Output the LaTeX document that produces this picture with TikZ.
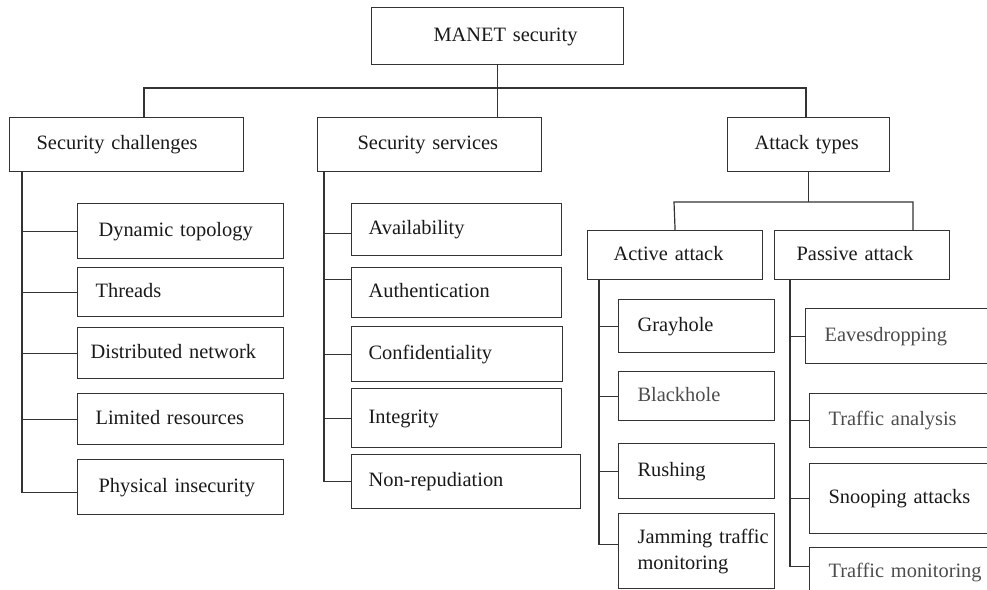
\documentclass[tikz,border=0pt]{standalone}
\usepackage{fontspec}
\setmainfont{Liberation Serif}
\usetikzlibrary{positioning}

\tikzset{
  box/.style n args={4}{draw=black!80, line width=0.6pt, anchor=north west,
    inner xsep=0pt, inner ysep=0pt, text width=#1*0.5pt, align=left,
    minimum width=#1*0.5pt, minimum height=#2*0.5pt,
    text height=1.6ex, text depth=0.45ex,
    execute at begin node={\leftskip=\dimexpr #3pt/2\relax}, text=#4},
  link/.style={draw=black!80, line width=0.6pt},
}

\begin{document}
\begin{tikzpicture}[x=0.5pt, y=-0.5pt, font=\fontsize{10.2}{13}\selectfont]
            \path[use as bounding box] (0,0) rectangle (987,590);
            \clip (0,0) rectangle (987,590);
            % top level
            \node [box={252}{57}{62}{black!90}] (top) at (371,7) {MANET security};
            \node [box={234}{54}{27}{black!90}] (chal) at (9,117) {Security challenges};
            \node [box={224}{54}{40}{black!90}] (serv) at (317,117) {Security services};
            \node [box={162}{54}{27}{black!90}] (atk) at (727,117) {Attack types};
            % challenges
            \node [box={206}{55}{21}{black!90}] (c1) at (77,203) {Dynamic topology};
            \node [box={206}{49}{18}{black!90}] (c2) at (77,267) {Threads};
            \node [box={206}{51}{13}{black!90}] (c3) at (77,327) {Distributed network};
            \node [box={206}{51}{18}{black!90}] (c4) at (77,393) {Limited resources};
            \node [box={206}{55}{21}{black!90}] (c5) at (77,459) {Physical insecurity};
            % services
            \node [box={210}{52}{17}{black!90}] (v1) at (351,203) {Availability};
            \node [box={210}{50}{17}{black!90}] (v2) at (351,267) {Authentication};
            \node [box={211}{55}{17}{black!90}] (v3) at (351,326) {Confidentiality};
            \node [box={210}{59}{17}{black!90}] (v4) at (351,388) {Integrity};
            \node [box={229}{54}{17}{black!90}] (v5) at (351,454) {Non-repudiation};
            % attacks
            \node [box={175}{49}{26}{black!90}] (act) at (587,230) {Active attack};
            \node [box={175}{49}{22}{black!90}] (pas) at (774,230) {Passive attack};
            \node [box={156}{53}{19}{black!90}] (a1) at (618,299) {Grayhole};
            \node [box={156}{49}{19}{black!70}] (a2) at (618,371) {Blackhole};
            \node [box={156}{55}{19}{black!90}] (a3) at (618,443) {Rushing};
            \node [box={156}{75}{19}{black!90}, text depth=] (a4) at (618,513) {Jamming traffic\\monitoring};
            \node [box={200}{55}{19}{black!70}] (p1) at (805,308) {Eavesdropping};
            \node [box={196}{54}{19}{black!70}] (p2) at (809,393) {Traffic analysis};
            \node [box={196}{70}{19}{black!90}] (p3) at (809,463) {Snooping attacks};
            \node [box={196}{50}{19}{black!70}] (p4) at (809,547) {Traffic monitoring};
            % connectors
            \coordinate (b1) at (144,88);
            \coordinate (b2) at (806,88);
            \coordinate (j1) at (674,202);
            \coordinate (j2) at (913,202);
            \coordinate (s1) at (22,171);
            \coordinate (s2) at (324,171);
            \coordinate (s3) at (599,279);
            \coordinate (s4) at (790,279);
            \draw[link] (b1 |- chal.north) -- (b1) -- (b2) -- (b2 |- atk.north);
            \draw[link] (top.south) -- (top.south |- serv.north);
            \draw[link] (atk.south) -- (atk.south |- j1);
            \draw[link] (act.north) -- (j1) -- (j2) -- (j2 |- pas.north);
            \draw[link] (s1) |- ([yshift=-2.5pt]c5.west);
            \foreach \n in {c1, c2, c3, c4}{
                \draw[link] (s1 |- \n.west) -- (\n.west);
            }
            \draw[link] (s2) |- (v5.west);
            \foreach \n/\d in {v1/-2, v2/6.5, v3/0, v4/0}{
                \draw[link] ([yshift=\d pt]s2 |- \n.west) -- ([yshift=\d pt]\n.west);
            }
            \draw[link] (s3) |- ([yshift=3.5pt]a4.west);
            \foreach \n in {a1, a2, a3}{
                \draw[link] (s3 |- \n.west) -- (\n.west);
            }
            \draw[link] (s4) |- ([yshift=3pt]p4.west);
            \foreach \n in {p1, p2, p3}{
                \draw[link] (s4 |- \n.west) -- (\n.west);
            }
        \end{tikzpicture}
\end{document}
